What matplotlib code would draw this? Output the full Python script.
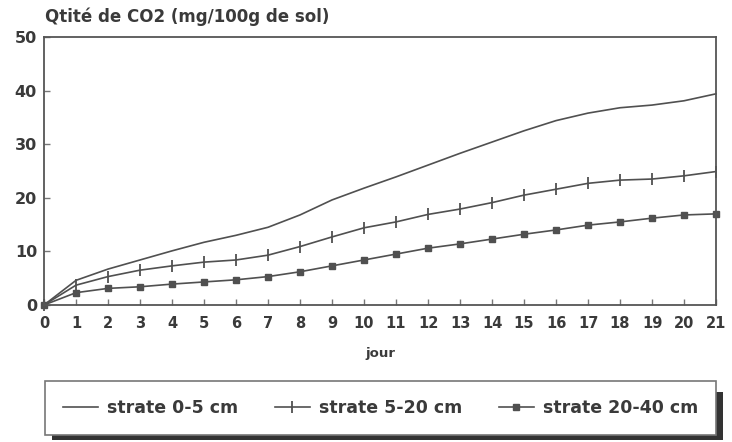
import matplotlib
matplotlib.use("Agg")
import matplotlib.pyplot as plt
from matplotlib.patches import Rectangle

# jours d'incubation
jours = list(range(0, 22))

# CO2 cumule (mg/100g de sol) par strate
strate_0_5 = [0, 4.6, 6.7, 8.4, 10.1, 11.7, 13.0, 14.5, 16.8, 19.6, 21.8,
              23.9, 26.1, 28.3, 30.4, 32.5, 34.4, 35.8, 36.8, 37.3, 38.1, 39.4]
strate_5_20 = [0, 3.7, 5.3, 6.5, 7.3, 8.0, 8.4, 9.3, 10.9, 12.7, 14.4,
               15.5, 16.9, 17.9, 19.1, 20.5, 21.6, 22.7, 23.3, 23.5, 24.1, 24.9]
strate_20_40 = [0, 2.3, 3.1, 3.4, 3.9, 4.3, 4.7, 5.3, 6.2, 7.3, 8.4,
                9.5, 10.6, 11.4, 12.3, 13.2, 14.0, 14.9, 15.5, 16.2, 16.8, 17.0]

labels = ["strate 0-5 cm", "strate 5-20 cm", "strate 20-40 cm"]
y_ticks = [0, 10, 20, 30, 40, 50]

gris = "#505050"
texte = "#3a3a3a"

fig = plt.figure(figsize=(7.32, 4.42), dpi=100)
ax = fig.add_axes([44 / 732, 1 - 305 / 442, (716 - 44) / 732, (305 - 37) / 442])

l1, = ax.plot(jours, strate_0_5, color=gris, lw=1.2)
l2, = ax.plot(jours, strate_5_20, color=gris, lw=1.2, marker="|", ms=8, mew=1.3)
l3, = ax.plot(jours, strate_20_40, color=gris, lw=1.2, marker="s", ms=4)
for ln in (l1, l2, l3):
    ln.set_clip_on(False)

ax.set_xlim(0, 21)
ax.set_ylim(0, 50)
ax.set_xticks(jours)
ax.set_yticks(y_ticks)
ax.tick_params(direction="in", length=4, width=1, color="#777",
               labelcolor=texte, labelsize=10.5)
ax.tick_params(axis="x", pad=8)
ax.tick_params(axis="y", pad=5, labelsize=11.5)
for lab in ax.get_xticklabels() + ax.get_yticklabels():
    lab.set_fontweight("bold")
for sp in ax.spines.values():
    sp.set_color("#555")
    sp.set_linewidth(1.3)

fig.text(45 / 732, 1 - 17 / 442, "Qtité de CO2 (mg/100g de sol)", fontsize=12,
         fontweight="bold", color=texte, va="center", ha="left")
fig.text(380 / 732, 1 - 353 / 442, "jour", fontsize=9.5, fontweight="bold",
         color=texte, ha="center", va="center")

# boite de legende avec ombre portee
x0, x1 = 45 / 732, 716 / 732
y0, y1 = 1 - 432 / 442, 1 - 384 / 442
fig.patches.append(Rectangle((x0 + 7 / 732, y0 - 8 / 442), x1 - x0, y1 - y0,
                             transform=fig.transFigure, facecolor="#333",
                             edgecolor="none", zorder=1))
leg = fig.legend([l1, l2, l3], labels, loc="center", ncol=3, mode="expand",
                 bbox_to_anchor=(x0, y0, x1 - x0, y1 - y0), borderaxespad=0,
                 fancybox=False, handlelength=2.0, handletextpad=0.5,
                 borderpad=1.05, prop={"weight": "bold", "size": 12.5})
leg.get_frame().set_edgecolor("#777")
leg.get_frame().set_linewidth(1.2)
leg.get_frame().set_alpha(1)
for t in leg.get_texts():
    t.set_color(texte)

fig.savefig("out.png", dpi=100)
